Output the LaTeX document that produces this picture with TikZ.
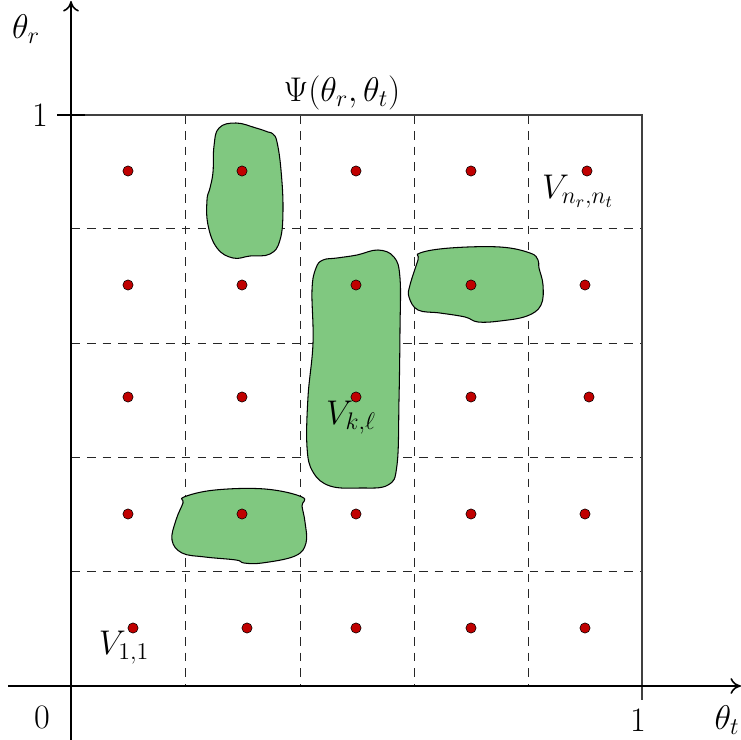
\RequirePackage{fix-cm}
\documentclass[tikz,border=0pt]{standalone}
\usepackage{amsmath}
\usetikzlibrary{arrows.meta}
\definecolor{blobgreen}{RGB}{128,200,128}
\definecolor{dotred}{RGB}{192,0,0}
\begin{document}
\begin{tikzpicture}[x=0.02cm,y=-0.02cm,
  lbl/.style={font=\fontsize{19.5}{23}\selectfont, inner sep=0pt},
  dot/.style={circle, fill=dotred, draw=black, line width=0.3pt, inner sep=0pt, minimum size=0.205cm},
  blob/.style={fill=blobgreen, draw=black, line width=0.6pt},
  gridline/.style={dashed, dash pattern=on 5pt off 4pt, line width=0.5pt, black!85},
  border/.style={line width=0.6pt, black!75},
  axis/.style={line width=0.9pt, -{To[length=6pt,width=9pt]}}]
\useasboundingbox (0,0) rectangle (741,740);
% grid
\foreach \g in {185,300,414,528} {
  \draw[gridline] (\g,115) -- (\g,686);
}
\foreach \g in {228,343,457,571} {
  \draw[gridline] (71,\g) -- (642,\g);
}
% square border and ticks
\draw[border] (57,115) -- (642,115) -- (642,700);
\draw[line width=0.9pt] (57,115) -- (85,115);
% axes
\coordinate (xs) at (8,686);
\coordinate (xe) at (741,686);
\coordinate (ys) at (71,740);
\coordinate (ye) at (71,1);
\draw[axis] (xs) -- (xe);
\draw[axis] (ys) -- (ye);
% blobs
\draw[blob] plot[smooth cycle, tension=0.7] coordinates {
  (219,128) (236,123) (256,128) (268,132) (273,134) (277,142) (281,170) (283,210)
  (280,240) (270,254) (250,256) (233,258) (217,248) (208,225) (207,200) (210,188)
  (213,172) (214,146)};
\draw[blob] plot[smooth cycle, tension=0.65] coordinates {
  (323,260) (316,268) (312,290) (313,343) (308,397) (307,447) (313,472) (330,486)
  (360,488) (388,485) (397,465) (399,400) (400,330) (400,278) (394,257) (378,250)
  (357,255) (337,258)};
\draw[blob] plot[smooth cycle, tension=0.65] coordinates {
  (420,253) (418,260) (410,285) (409,297) (418,310) (440,313) (465,317) (478,322)
  (500,321) (527,316) (541,305) (543,285) (539,268) (538,260) (530,253) (500,247)
  (450,248)};
\draw[blob] plot[smooth cycle, tension=0.65] coordinates {
  (184,497) (183,503) (176,520) (172,540) (182,553) (205,557) (236,560) (244,563)
  (262,563) (295,556) (306,543) (305,522) (302,506) (302,497) (265,489) (215,490)};
% dots
\foreach \x [count=\i] in {128,242,356,471,587} \node[dot] (d1\i) at (\x,171) {};
\foreach \x [count=\i] in {128,242,356,471,585} \node[dot] (d2\i) at (\x,285) {};
\foreach \x [count=\i] in {128,242,356,471,589} \node[dot] (d3\i) at (\x,397) {};
\foreach \x [count=\i] in {128,242,356,471,585} \node[dot] (d4\i) at (\x,514) {};
\foreach \x [count=\i] in {133,247,356,471,585} \node[dot] (d5\i) at (\x,628) {};
% labels
\node[lbl] (thr) at (26,29) {$\theta_r$};
\node[lbl] (one1) at (40,115) {$1$};
\node[lbl] (psi) at (342,93) {$\Psi(\theta_r,\theta_t)$};
\node[lbl] (vn) at (578,192) {$V_{n_r,n_t}$};
\node[lbl] (v11) at (124,648) {$V_{1,1}$};
\node[lbl] (vkl) at (351,418) {$V_{k,\ell}$};
\node[lbl] (zero) at (42,717) {$0$};
\node[lbl] (one2) at (638,720) {$1$};
\node[lbl] (tht) at (727,720) {$\theta_t$};
\end{tikzpicture}
\end{document}
